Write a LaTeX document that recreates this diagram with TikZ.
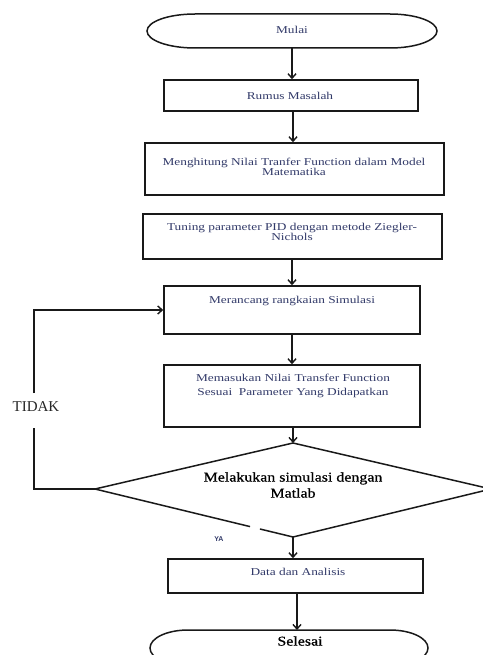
\documentclass[tikz,border=0pt]{standalone}
\usepackage{fontspec}
\setmainfont{Liberation Serif}
\newfontfamily\boxfont[FakeStretch=1.27]{Liberation Serif}
\newfontfamily\bigfont[FakeStretch=1.18,FakeBold=0.6]{Liberation Serif}
\newfontfamily\yafont{Liberation Sans}
\usetikzlibrary{arrows.meta,calc}
\definecolor{txt}{RGB}{50,58,105}
\definecolor{ln}{RGB}{25,25,25}
\tikzset{
  stepbox/.style={draw=ln, line width=1.5pt, rectangle, inner sep=0pt},
  btxt/.style={font=\boxfont\fontsize{10.5}{10.5}\selectfont, text=txt, align=center, inner sep=0pt},
  bigtxt/.style={font=\bigfont\fontsize{13.5}{16}\selectfont, text=black, align=center, inner sep=0pt},
  conn/.style={draw=ln, line width=1.4pt},
  arr/.style={conn, -{Straight Barb[length=4.5pt,width=8pt]}},
  shp/.style={draw=ln, line width=1.5pt}
}
\begin{document}
\begin{tikzpicture}[x=1pt,y=-1pt]
\useasboundingbox[fill=white] (0,0) rectangle (482,655);

% Mulai
\node[minimum width=290pt, minimum height=34pt, inner sep=0pt] (mulai) at (292,31) {};
\draw[shp] (195,14) -- (390,14) arc[start angle=90,end angle=-90,x radius=47pt,y radius=17pt]
  -- (195,48) arc[start angle=270,end angle=90,x radius=48pt,y radius=17pt] -- cycle;
\node[btxt] (tmulai) at (292,30) {Mulai};

% boxes
\node[stepbox, minimum width=254pt, minimum height=31pt] (b1) at (291,95.5) {};
\node[btxt] (t1) at (290,96) {Rumus Masalah};

\node[stepbox, minimum width=299pt, minimum height=52pt] (b2) at (294.5,169) {};
\node[btxt, font=\boxfont\fontsize{10.5}{10}\selectfont] (t2) at (294,167) {Menghitung Nilai Tranfer Function dalam Model\\Matematika};

\node[stepbox, minimum width=299pt, minimum height=45pt] (b3) at (292.5,236.5) {};
\node[btxt, font=\boxfont\fontsize{10.5}{10.5}\selectfont] (t3) at (292,232) {Tuning parameter PID dengan metode Ziegler-\\Nichols};

\node[stepbox, minimum width=256pt, minimum height=48pt] (b4) at (292,310) {};
\node[btxt] (t4) at (292,301) {Merancang rangkaian Simulasi};

\node[stepbox, minimum width=256pt, minimum height=62pt] (b5) at (292,396) {};
\node[btxt, font=\boxfont\fontsize{10.5}{14}\selectfont] (t5) at (293,386) {Memasukan Nilai Transfer Function\\Sesuai~ Parameter Yang Didapatkan};

% decision
\coordinate (dt) at (293,443);
\coordinate (dl) at (95,489);
\coordinate (dr) at (491,489);
\coordinate (db) at (293,537);
\draw[shp, line join=miter] ($(db)!0.167!(dl)$) -- (db) -- (dr) -- (dt) -- (dl) -- ($(db)!0.217!(dl)$);
\node[bigtxt] (dec) at (293,485) {Melakukan simulasi dengan\\Matlab};

\node[stepbox, minimum width=255pt, minimum height=34pt] (b6) at (295.5,576) {};
\node[btxt] (t6) at (298,572) {Data dan Analisis};

% Selesai
\node[minimum width=278pt, minimum height=36pt, inner sep=0pt] (selesai) at (289,648) {};
\draw[shp] (188,630) -- (390,630) arc[start angle=90,end angle=-90,x radius=38pt,y radius=18pt]
  -- (188,666) arc[start angle=270,end angle=90,x radius=38pt,y radius=18pt] -- cycle;
\node[bigtxt] (tsel) at (300,641) {Selesai};

% connectors
\draw[arr] (292,48) -- (b1.north -| 292,0);
\draw[arr] (b1.south -| 293,0) -- (b2.north -| 293,0);
\draw[arr] (b3.south -| 292,0) -- (b4.north -| 292,0);
\draw[arr] (b4.south -| 292,0) -- (b5.north -| 292,0);
\draw[arr] (b5.south -| 293,0) -- (dt);
\draw[arr] (db) -- (b6.north -| 293,0);
\draw[arr] (b6.south -| 297,0) -- (297,630);

% loop back
\coordinate (lb) at (34,489);
\coordinate (lg1) at (34,428);
\coordinate (lg2) at (34,393);
\draw[conn] (dl) -- (lb) -- (lg1);
\draw[arr] (lg2) |- (b4.west);
\node[font=\fontsize{15}{15}\selectfont, text=black!85, inner sep=0pt] (tidak) at (36,407) {TIDAK};
\node[font=\yafont\bfseries\fontsize{7}{7}\selectfont, text=txt, inner sep=0pt] (ya) at (219,539) {YA};
\end{tikzpicture}
\end{document}
